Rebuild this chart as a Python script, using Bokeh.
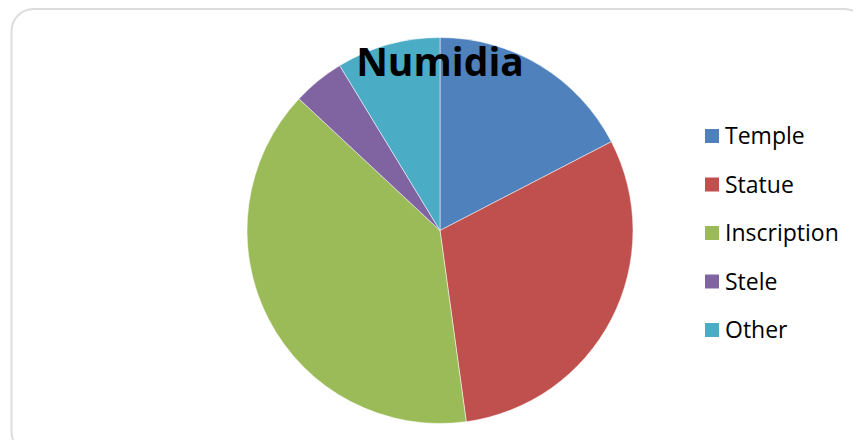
import math
from bokeh.plotting import figure
from bokeh.models import ColumnDataSource, BoxAnnotation, Range1d
from bokeh.core.properties import value
from bokeh.embed import file_html
from bokeh.resources import INLINE

# ---- data ----
title = "Numidia"
categories = ["Temple", "Statue", "Inscription", "Stele", "Other"]
counts = [4, 7, 9, 1, 2]
colors = ["#4F81BD", "#C0504D", "#9BBB59", "#8064A2", "#4BACC6"]

W, H = 853, 440
p = figure(width=W, height=H, output_backend="svg", toolbar_location=None,
           x_range=Range1d(0, W), y_range=Range1d(0, H), min_border=0)
p.axis.visible = False
p.grid.visible = False
p.outline_line_color = None
p.background_fill_color = "white"

def px(x):
    return x

def py(y):
    return H - y

# frame
p.add_layout(BoxAnnotation(left=px(11), right=px(866), top=py(8.5), bottom=py(453),
                           border_radius=22, fill_alpha=0, line_color="#8a8a8a",
                           line_width=2))

# pie
total = sum(counts)
starts, ends = [], []
acc = 0.0
for c in counts:
    starts.append(math.pi / 2 - 2 * math.pi * acc / total)
    acc += c
    ends.append(math.pi / 2 - 2 * math.pi * acc / total)

src = ColumnDataSource(dict(cat=categories, start=starts, end=ends, color=colors))
p.wedge(x=px(439.5), y=py(230), radius=193, start_angle="start", end_angle="end",
        direction="clock", fill_color="color", line_color="white", line_width=0.5,
        source=src)

# title
p.text(x=[px(439.5)], y=[py(60)], text=[title], text_font=value("Open Sans"),
       text_font_style="bold", text_font_size="39px", text_align="center",
       text_baseline="middle", text_color="black")

# legend
n = len(categories)
ly = [py(135.5 + 48.5 * i) for i in range(n)]
lsrc = ColumnDataSource(dict(x=[px(711.5)] * n, y=ly, tx=[px(724.5)] * n,
                             ty=[v + 1 for v in ly], cat=categories, color=colors))
p.scatter(x="x", y="y", marker="square", size=14, fill_color="color",
          line_color=None, source=lsrc)
p.text(x="tx", y="ty", text="cat", text_font=value("Open Sans"),
       text_font_size="23px", text_baseline="middle", text_color="black",
       source=lsrc)

open("out.html", "w").write(file_html(p, INLINE))
